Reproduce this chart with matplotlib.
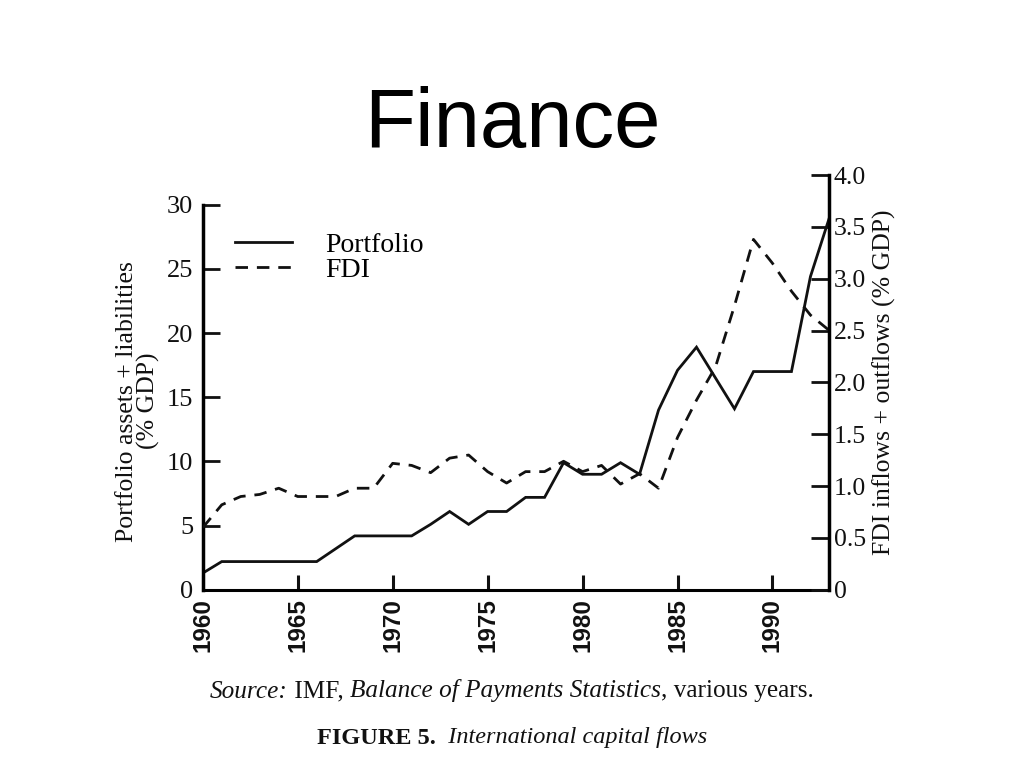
import matplotlib
matplotlib.use("Agg")
import matplotlib.pyplot as plt
from matplotlib.lines import Line2D
from matplotlib.offsetbox import TextArea, HPacker, AnchoredOffsetbox

# data
years = list(range(1960, 1994))
portfolio = [1.3, 2.2, 2.2, 2.2, 2.2, 2.2, 2.2, 3.2, 4.2, 4.2,
             4.2, 4.2, 5.1, 6.1, 5.1, 6.1, 6.1, 7.2, 7.2, 9.9,
             9.0, 9.0, 9.9, 9.0, 14.0, 17.1, 18.9, 16.5, 14.1, 17.0,
             17.0, 17.0, 24.4, 29.0]
fdi = [0.60, 0.82, 0.90, 0.92, 0.98, 0.90, 0.90, 0.90, 0.98, 0.98,
       1.22, 1.20, 1.13, 1.27, 1.30, 1.14, 1.03, 1.14, 1.14, 1.24,
       1.14, 1.20, 1.02, 1.12, 0.98, 1.47, 1.83, 2.15, 2.74, 3.38,
       3.15, 2.88, 2.65, 2.50]

left_ticks = [0, 5, 10, 15, 20, 25, 30]
right_ticks = [0, 0.5, 1.0, 1.5, 2.0, 2.5, 3.0, 3.5, 4.0]
right_labels = ["0", "0.5", "1.0", "1.5", "2.0", "2.5", "3.0", "3.5", "4.0"]
year_ticks = [1960, 1965, 1970, 1975, 1980, 1985, 1990]

SERIF = "Liberation Serif"
SANS = "Liberation Sans"
INK = "#111111"
DASH = (4.5, 3.2)

fig = plt.figure(figsize=(10.24, 7.68), dpi=100)
fig.patch.set_facecolor("white")
ax = fig.add_axes([0.198, 0.232, 0.612, 0.540])
ax2 = ax.twinx()

ax.plot(years, portfolio, color=INK, lw=2.0, solid_joinstyle="miter")
ax2.plot(years, fdi, color=INK, lw=2.0, dashes=DASH)

ax.set_xlim(1960, 1993)
ax.set_ylim(0, 32.3)
ax2.set_ylim(0, 4.0)

for a in (ax, ax2):
    a.spines["top"].set_visible(False)
    a.set_facecolor("none")
ax.spines["right"].set_visible(False)
ax2.spines["left"].set_visible(False)
ax2.spines["bottom"].set_visible(False)
ax.spines["left"].set_bounds(0, 30)
ax.spines["left"].set_linewidth(2.5)
ax.spines["bottom"].set_linewidth(2.2)
ax2.spines["right"].set_linewidth(2.5)

ax.set_xticks(year_ticks)
ax.set_xticklabels([str(y) for y in year_ticks], rotation=90,
                   fontfamily=SANS, fontsize=17.5, fontweight="bold")
ax.tick_params(axis="x", direction="in", length=11, width=2.2, pad=6,
               colors=INK)
ax.set_yticks(left_ticks)
ax.set_yticklabels([str(v) for v in left_ticks], fontfamily=SERIF, fontsize=19)
ax.tick_params(axis="y", direction="in", length=12, width=2.0, pad=7,
               colors=INK)
ax2.set_yticks(right_ticks)
ax2.set_yticklabels(right_labels, fontfamily=SERIF, fontsize=18.5)
ax2.tick_params(axis="y", direction="in", length=13, width=2.0, pad=3,
                colors=INK)

ax.set_ylabel("Portfolio assets + liabilities\n(% GDP)", fontfamily=SERIF,
              fontsize=18.5, linespacing=0.92, color=INK)
ax.yaxis.set_label_coords(-0.068, 0.455)
ax2.set_ylabel("FDI inflows + outflows (% GDP)", fontfamily=SERIF,
               fontsize=18.5, labelpad=5, color=INK)

handles = [Line2D([], [], color=INK, lw=2.0),
           Line2D([], [], color=INK, lw=2.0, dashes=DASH)]
ax2.legend(handles, ["Portfolio", "FDI"], loc="upper left",
           bbox_to_anchor=(0.016, 0.916), frameon=False, handlelength=2.05,
           handletextpad=1.2, labelspacing=0.0, borderpad=0.3,
           prop={"family": SERIF, "size": 20})

fig.text(0.5, 0.837, "Finance", ha="center", va="center",
         fontfamily=SANS, fontsize=60, color="black")


def caption(parts, y, size):
    boxes = [TextArea(s, textprops=dict(fontfamily=SERIF, fontsize=size,
                                        color=INK, **kw))
             for s, kw in parts]
    row = HPacker(children=boxes, sep=0, pad=0, align="baseline")
    box = AnchoredOffsetbox(loc="center", child=row, frameon=False, pad=0,
                            borderpad=0, bbox_to_anchor=(0.5, y),
                            bbox_transform=fig.transFigure)
    fig.add_artist(box)


caption([("Source:", dict(style="italic")),
         (" IMF, ", {}),
         ("Balance of Payments Statistics", dict(style="italic")),
         (", various years.", {})], 1 - 691 / 768, 18.2)
caption([("FIGURE 5.", dict(weight="bold")),
         ("  International capital flows", dict(style="italic"))],
        1 - 738 / 768, 17.5)

fig.savefig("out.png", dpi=100, facecolor="white")
